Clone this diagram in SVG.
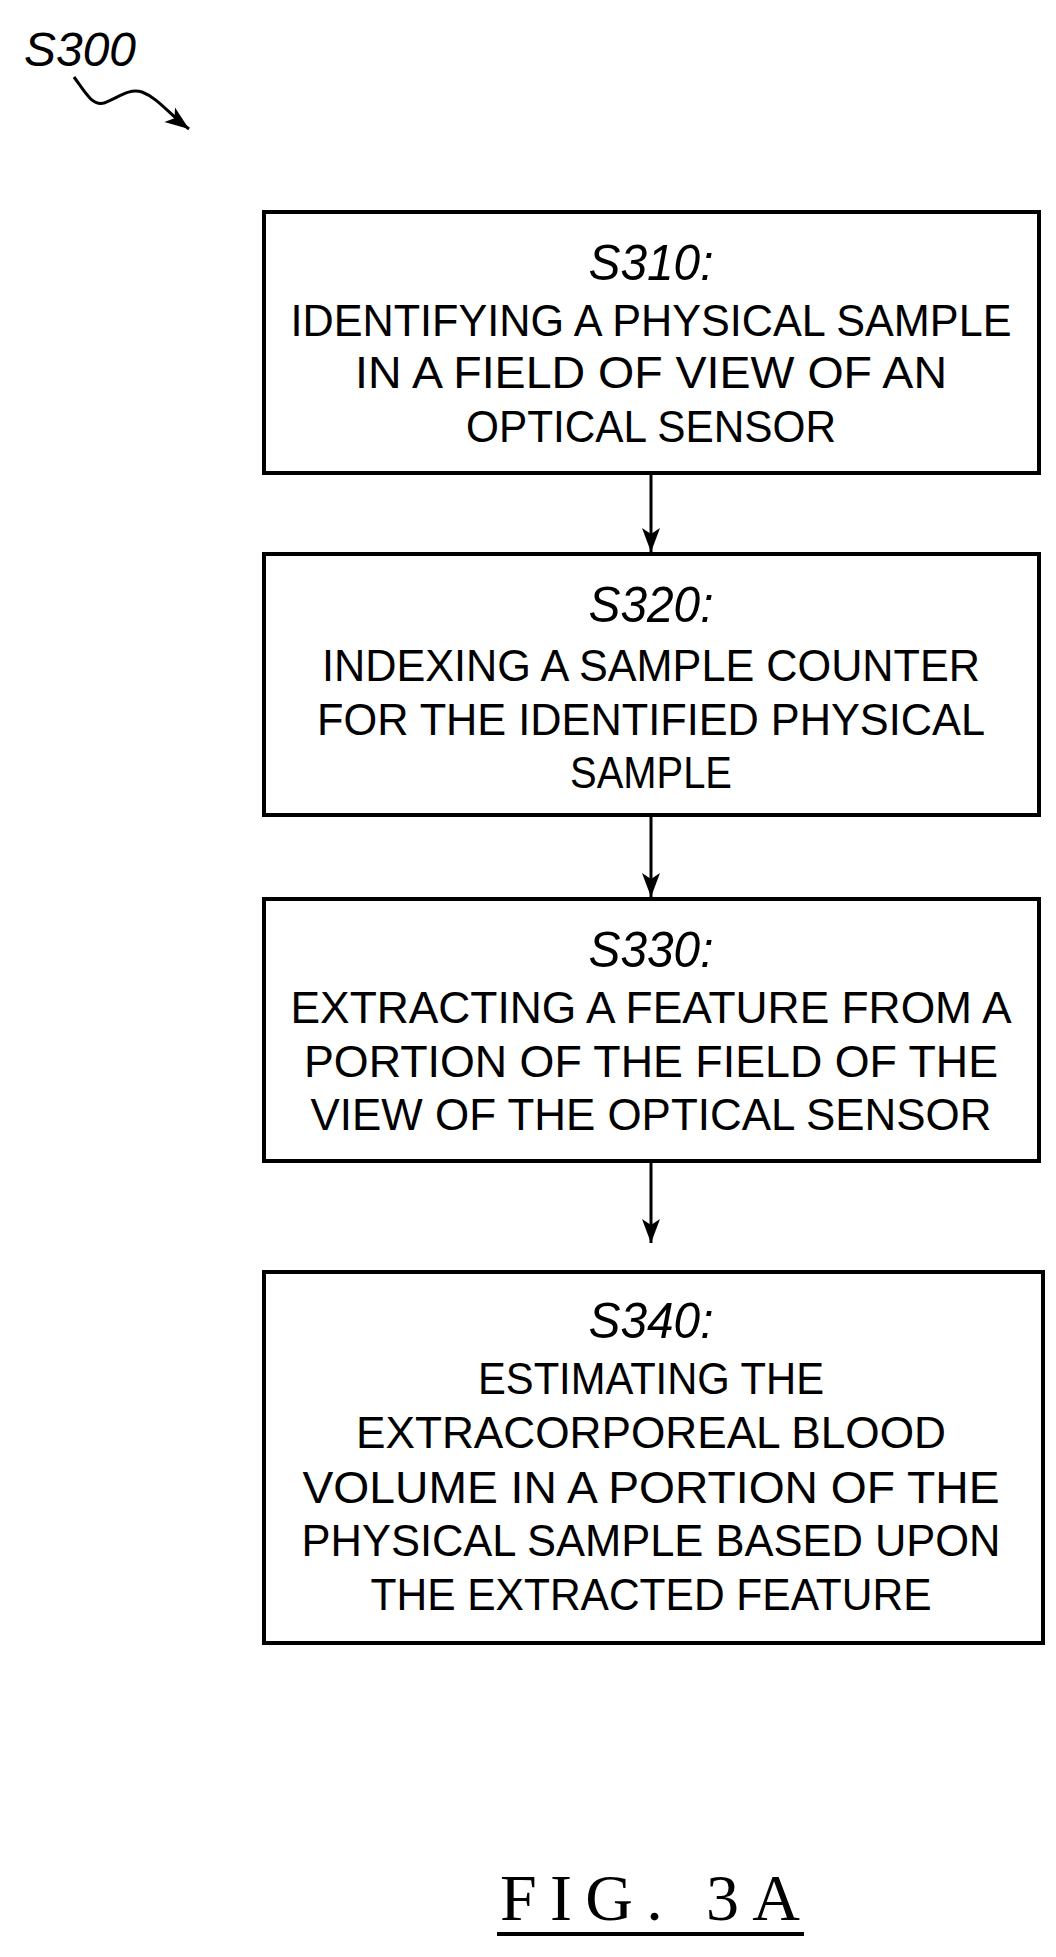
<svg xmlns="http://www.w3.org/2000/svg" width="1056" height="1957" viewBox="0 0 1056 1957">
<style>
.box{fill:none;stroke:#000;stroke-width:4}
.t{font-family:"Liberation Sans Narrow","Liberation Sans",Arial,sans-serif;font-size:44px;text-anchor:middle;fill:#000}
.s{font-family:"Liberation Sans Narrow","Liberation Sans",Arial,sans-serif;font-style:italic;font-size:50px;text-anchor:middle;fill:#000}
.c{fill:none;stroke:#000;stroke-width:3}
</style>
<defs>
<marker id="ah" viewBox="0 0 10 10" refX="10" refY="5" markerWidth="8" markerHeight="8" markerUnits="userSpaceOnUse" orient="auto">
<path d="M0,0 L10,5 L0,10 L3,5 Z" fill="#000"/>
</marker>
<marker id="ah2" viewBox="0 0 24 20" refX="24" refY="10" markerWidth="24" markerHeight="20" markerUnits="userSpaceOnUse" orient="auto">
<path d="M0,1 L24,10 L0,19 L6,10 Z" fill="#000"/>
</marker>
</defs>
<rect width="1056" height="1957" fill="#fff"/>
<g id="label-S300">
<text x="80" y="66" class="s" style="font-size:48px" textLength="112" lengthAdjust="spacingAndGlyphs">S300</text>
<path class="c" d="M74,77 C85,92 92,106 104,103 C118,98 128,88 142,92 C158,98 170,115 189,129" marker-end="url(#ah2)"/>
</g>
<g id="S310">
<rect class="box" x="264" y="212" width="775" height="261"/>
<text x="651" y="280" class="s" textLength="125" lengthAdjust="spacingAndGlyphs">S310:</text>
<text x="651" y="336" class="t" textLength="721" lengthAdjust="spacingAndGlyphs">IDENTIFYING A PHYSICAL SAMPLE</text>
<text x="651" y="388" class="t" textLength="592" lengthAdjust="spacingAndGlyphs">IN A FIELD OF VIEW OF AN</text>
<text x="651" y="442" class="t" textLength="370" lengthAdjust="spacingAndGlyphs">OPTICAL SENSOR</text>
</g>
<g id="S320">
<rect class="box" x="264" y="554" width="775" height="261"/>
<text x="651" y="622" class="s" textLength="125" lengthAdjust="spacingAndGlyphs">S320:</text>
<text x="651" y="681" class="t" textLength="658" lengthAdjust="spacingAndGlyphs">INDEXING A SAMPLE COUNTER</text>
<text x="651" y="735" class="t" textLength="668" lengthAdjust="spacingAndGlyphs">FOR THE IDENTIFIED PHYSICAL</text>
<text x="651" y="788" class="t" textLength="162" lengthAdjust="spacingAndGlyphs">SAMPLE</text>
</g>
<g id="S330">
<rect class="box" x="264" y="899" width="775" height="262"/>
<text x="651" y="967" class="s" textLength="125" lengthAdjust="spacingAndGlyphs">S330:</text>
<text x="651" y="1023" class="t" textLength="721" lengthAdjust="spacingAndGlyphs">EXTRACTING A FEATURE FROM A</text>
<text x="651" y="1077" class="t" textLength="694" lengthAdjust="spacingAndGlyphs">PORTION OF THE FIELD OF THE</text>
<text x="651" y="1130" class="t" textLength="681" lengthAdjust="spacingAndGlyphs">VIEW OF THE OPTICAL SENSOR</text>
</g>
<g id="S340">
<rect class="box" x="264" y="1272" width="779" height="371"/>
<text x="651" y="1338" class="s" textLength="125" lengthAdjust="spacingAndGlyphs">S340:</text>
<text x="651" y="1394" class="t" textLength="346" lengthAdjust="spacingAndGlyphs">ESTIMATING THE</text>
<text x="651" y="1448" class="t" textLength="590" lengthAdjust="spacingAndGlyphs">EXTRACORPOREAL BLOOD</text>
<text x="651" y="1503" class="t" textLength="697" lengthAdjust="spacingAndGlyphs">VOLUME IN A PORTION OF THE</text>
<text x="651" y="1556" class="t" textLength="699" lengthAdjust="spacingAndGlyphs">PHYSICAL SAMPLE BASED UPON</text>
<text x="651" y="1610" class="t" textLength="561" lengthAdjust="spacingAndGlyphs">THE EXTRACTED FEATURE</text>
</g>
<g id="connectors">
<line class="c" x1="651" y1="473" x2="651" y2="552" marker-end="url(#ah2)"/>
<line class="c" x1="651" y1="815" x2="651" y2="897" marker-end="url(#ah2)"/>
<line class="c" x1="651" y1="1161" x2="651" y2="1243" marker-end="url(#ah2)"/>
</g>
<g id="caption">
<text x="650" y="1920" style="font-family:'Liberation Serif','Times New Roman',serif;font-size:66px;text-anchor:middle" textLength="300" lengthAdjust="spacing">FIG. 3A</text>
<line x1="497" y1="1934" x2="804" y2="1934" stroke="#000" stroke-width="4"/>
</g>
</svg>
